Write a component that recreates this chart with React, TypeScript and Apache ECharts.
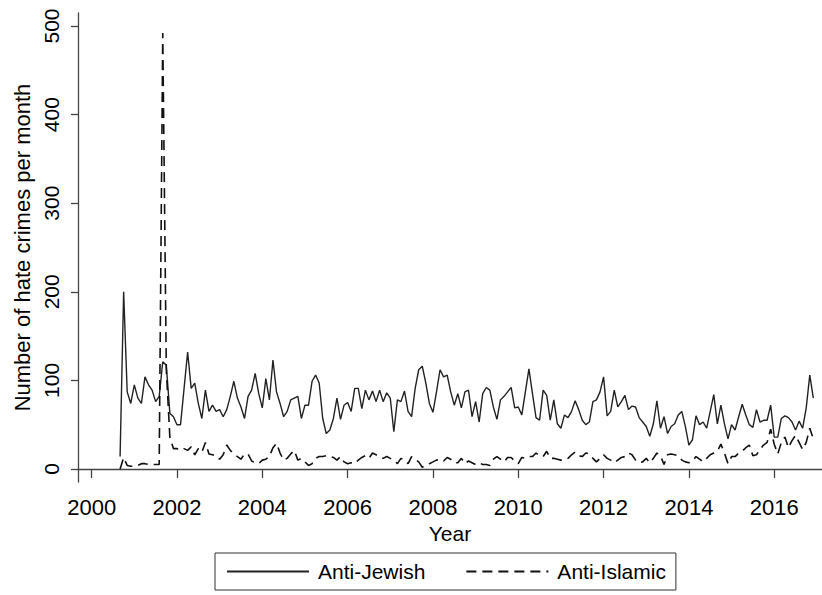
import React, { useEffect, useRef } from "react";
import * as echarts from "echarts";

// First month of data: September 2000, monthly through December 2016
const startYear = 2000;
const startMonth = 9;

const yearTicks = [2000, 2002, 2004, 2006, 2008, 2010, 2012, 2014, 2016];
const countTicks = [0, 100, 200, 300, 400, 500];

const seriesNames = ["Anti-Jewish", "Anti-Islamic"];

const antiJewish = [
  14, 200, 87, 74,
  95, 80, 74, 104, 95, 89, 76, 82, 121, 117, 63, 59,
  50, 50, 91, 132, 91, 97, 74, 57, 89, 65, 72, 65,
  67, 59, 67, 82, 99, 80, 70, 57, 82, 89, 108, 85,
  69, 102, 78, 123, 87, 74, 59, 65, 78, 80, 82, 57,
  72, 72, 99, 106, 97, 57, 40, 44, 57, 80, 56, 72,
  75, 65, 91, 91, 68, 89, 78, 88, 76, 89, 76, 86,
  80, 42, 78, 76, 88, 65, 59, 91, 112, 116, 97, 74,
  64, 87, 112, 104, 106, 87, 72, 85, 69, 87, 89, 59,
  76, 53, 85, 92, 89, 70, 56, 78, 82, 87, 92, 69,
  70, 61, 87, 113, 85, 58, 55, 89, 83, 55, 78, 51,
  46, 61, 58, 65, 77, 67, 55, 50, 53, 76, 78, 87,
  104, 60, 65, 89, 70, 76, 83, 67, 71, 70, 58, 53,
  48, 37, 51, 77, 46, 59, 40, 48, 51, 61, 65, 48,
  27, 33, 60, 50, 53, 46, 65, 84, 51, 72, 51, 34,
  50, 44, 59, 73, 61, 50, 47, 67, 53, 55, 55, 72,
  36, 36, 57, 60, 58, 53, 44, 54, 46, 69, 106, 80,
];

const antiIslamic = [
  0, 13, 4, 3,
  3, 4, 6, 6, 5, 5, 5, 5, 492, 112, 36, 23,
  23, 21, 23, 21, 25, 16, 23, 19, 30, 17, 16, 15,
  11, 16, 27, 21, 17, 14, 11, 17, 17, 9, 7, 6,
  10, 11, 14, 24, 29, 18, 10, 12, 17, 21, 10, 12,
  8, 4, 6, 12, 14, 14, 15, 14, 13, 10, 14, 8,
  6, 7, 6, 10, 13, 15, 12, 18, 16, 14, 12, 14,
  12, 10, 6, 12, 10, 6, 14, 11, 8, 2, 4, 6,
  8, 10, 11, 9, 13, 11, 7, 7, 12, 6, 9, 7,
  5, 7, 5, 5, 4, 11, 14, 11, 8, 13, 13, 9,
  6, 13, 12, 14, 14, 18, 15, 14, 20, 12, 12, 11,
  10, 10, 12, 16, 19, 15, 14, 18, 17, 12, 8, 12,
  16, 12, 10, 7, 10, 13, 14, 18, 16, 10, 7, 8,
  12, 7, 12, 18, 15, 5, 16, 17, 16, 15, 10, 8,
  7, 9, 14, 11, 8, 12, 16, 18, 20, 28, 18, 6,
  14, 14, 18, 20, 24, 27, 15, 16, 22, 27, 30, 45,
  28, 17, 30, 36, 24, 32, 38, 30, 22, 30, 46, 34,
];

const monthTime = (i: number) => startYear + (startMonth - 1 + i) / 12;
const toPairs = (vals: number[]) => vals.map((v, i) => [monthTime(i), v]);

const FONT = "'Liberation Sans', Arial, Helvetica, sans-serif";

export default function App() {
  const ref = useRef<HTMLDivElement>(null);

  useEffect(() => {
    if (!ref.current) return;
    const chart = echarts.init(ref.current, null, { renderer: "svg" });
    const axisLine = { show: true, lineStyle: { color: "#444", width: 1.3 } };
    chart.setOption({
      animation: false,
      backgroundColor: "#fff",
      textStyle: { fontFamily: FONT },
      grid: { left: 78, right: 0, top: 13, bottom: 113, containLabel: false },
      xAxis: {
        type: "value",
        min: 1999.68,
        max: 2017.12,
        axisLine,
        axisTick: { show: true, length: 9, customValues: yearTicks, lineStyle: { color: "#444", width: 1.3 } },
        axisLabel: {
          customValues: yearTicks,
          fontSize: 22,
          color: "#000",
          margin: 14,
          fontFamily: FONT,
          formatter: (v: number) => String(Math.round(v)),
        },
        splitLine: { show: false },
        name: "Year",
        nameLocation: "middle",
        nameGap: 40,
        nameTextStyle: { fontSize: 21, color: "#000", fontFamily: FONT },
      },
      yAxis: {
        type: "value",
        min: -14.7,
        max: 514.7,
        axisLine,
        axisTick: { show: true, length: 7, customValues: countTicks, lineStyle: { color: "#444", width: 1.3 } },
        axisLabel: {
          customValues: countTicks,
          rotate: 90,
          fontSize: 21,
          color: "#000",
          margin: 16,
          fontFamily: FONT,
        },
        splitLine: { show: false },
        name: "Number of hate crimes per month",
        nameLocation: "middle",
        nameGap: 44,
        nameTextStyle: { fontSize: 22, color: "#000", fontFamily: FONT },
      },
      legend: {
        data: seriesNames,
        left: 215,
        top: 553,
        orient: "horizontal",
        itemWidth: 82,
        itemHeight: 14,
        itemGap: 40,
        padding: [8, 10, 8, 11],
        borderColor: "#333",
        borderWidth: 1,
        itemStyle: { opacity: 0 },
        textStyle: { fontSize: 21, color: "#000", fontFamily: FONT, padding: [0, 0, 0, 4] },
      },
      series: [
        {
          name: seriesNames[0],
          type: "line",
          data: toPairs(antiJewish),
          showSymbol: false,
          symbol: "none",
          itemStyle: { color: "#222" },
          lineStyle: { color: "#222", width: 1.4, type: "solid" },
        },
        {
          name: seriesNames[1],
          type: "line",
          data: toPairs(antiIslamic),
          showSymbol: false,
          symbol: "none",
          itemStyle: { color: "#111" },
          lineStyle: { color: "#111", width: 1.6, type: [10, 6] },
        },
      ],
    });
    return () => chart.dispose();
  }, []);

  return (
    <div
      ref={ref}
      style={{ position: "fixed", left: 0, top: 0, width: 822, height: 595, background: "#fff" }}
    />
  );
}
